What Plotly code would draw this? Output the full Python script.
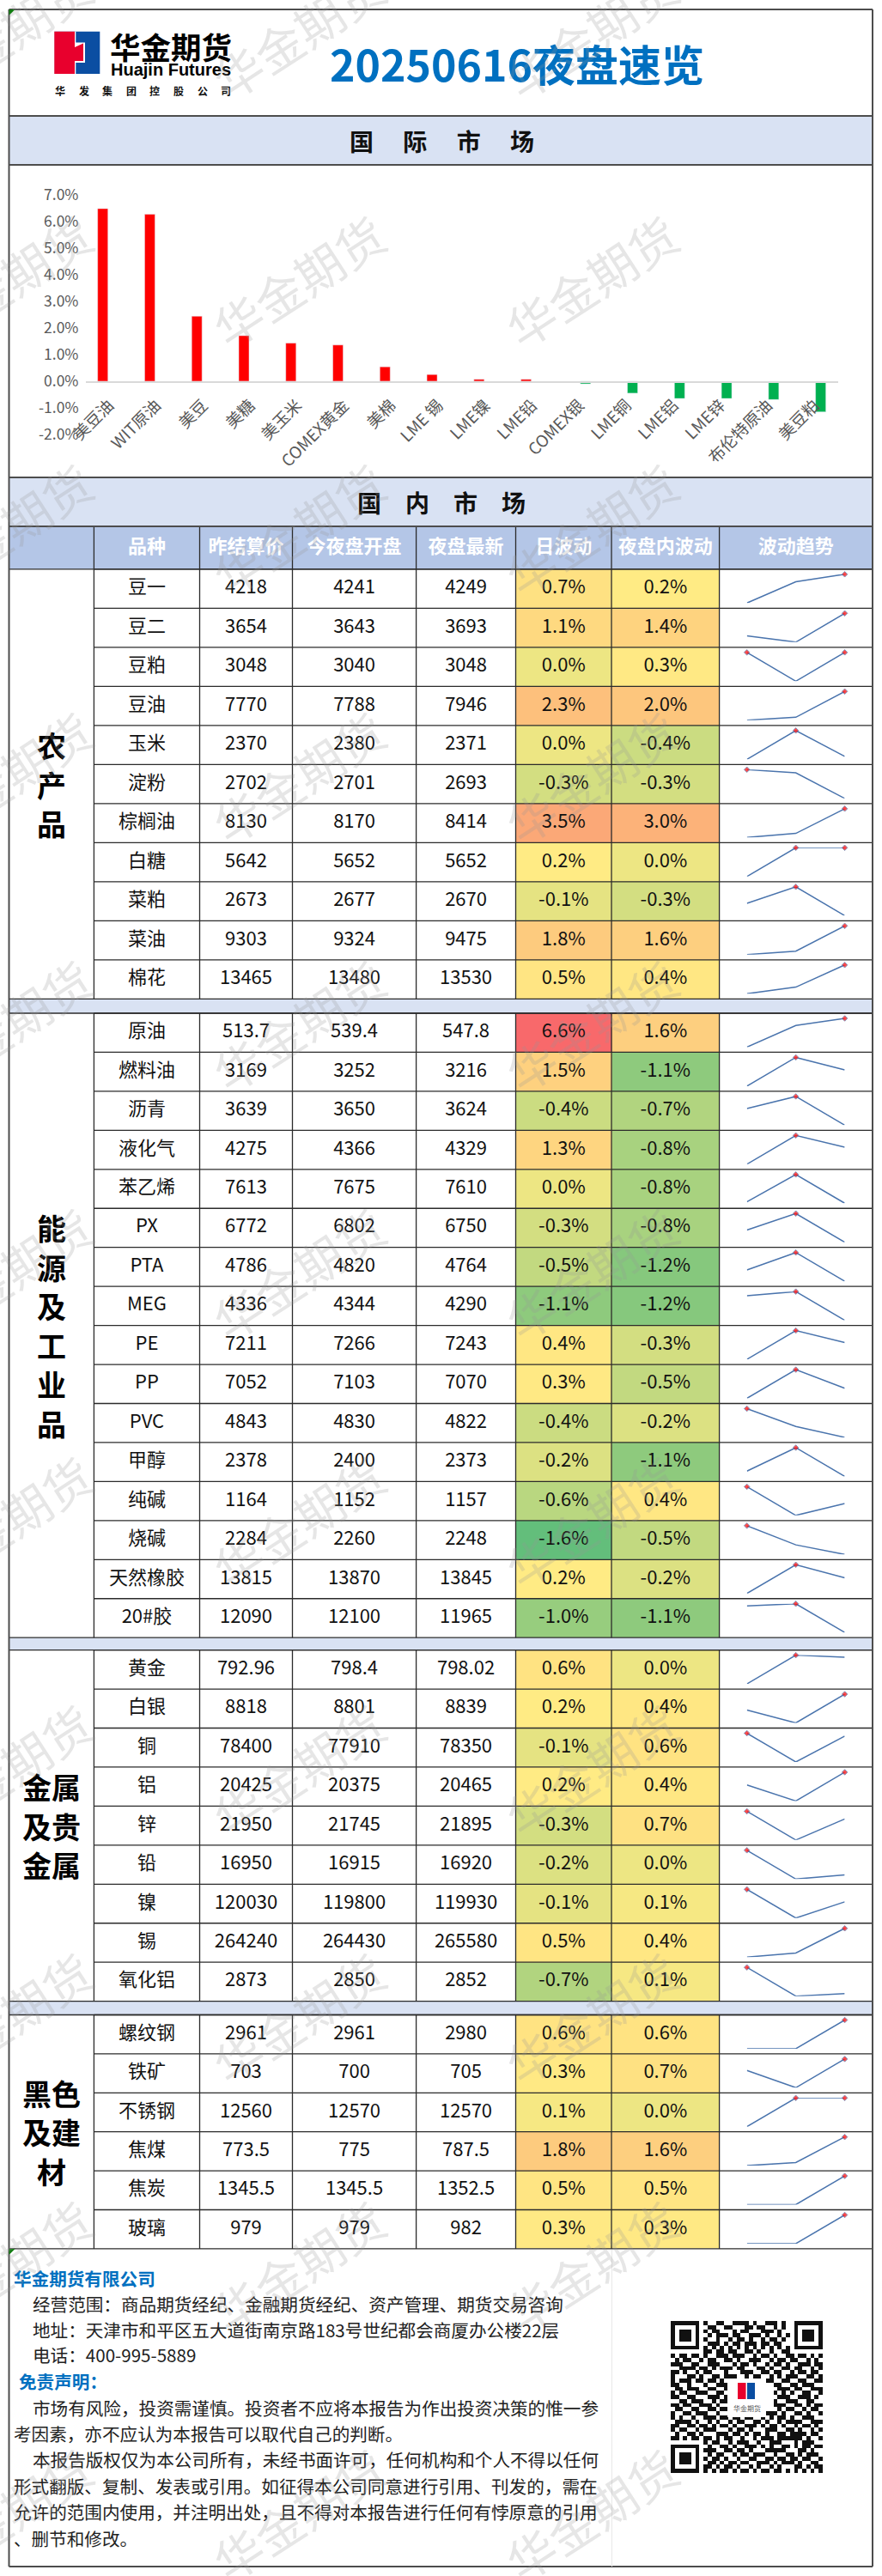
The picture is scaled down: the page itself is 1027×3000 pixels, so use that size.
import plotly.graph_objects as go

# === data ===
bar_names = ["美豆油", "WIT原油", "美豆", "美糖", "美玉米", "COMEX黄金", "美棉", "LME 锡",
             "LME镍", "LME铅", "COMEX银", "LME铜", "LME铝", "LME锌", "布伦特原油", "美豆粕"]
bar_up = [6.48, 6.27, 2.44, 1.71, 1.43, 1.36, 0.54, 0.25, 0.07, 0.07,
          None, None, None, None, None, None]
bar_down = [None, None, None, None, None, None, None, None, None, None,
            -0.10, -0.45, -0.65, -0.65, -0.69, -1.15]
bar_ticks = [-2, -1, 0, 1, 2, 3, 4, 5, 6, 7]
bar_tick_text = ["-2.0%", "-1.0%", "0.0%", "1.0%", "2.0%", "3.0%", "4.0%", "5.0%", "6.0%", "7.0%"]

headers = ["品种", "昨结算价", "今夜盘开盘", "夜盘最新", "日波动", "夜盘内波动", "波动趋势"]

agri_names = ["豆一", "豆二", "豆粕", "豆油", "玉米", "淀粉", "棕榈油", "白糖", "菜粕", "菜油", "棉花"]
agri_prev = [4218, 3654, 3048, 7770, 2370, 2702, 8130, 5642, 2673, 9303, 13465]
agri_open = [4241, 3643, 3040, 7788, 2380, 2701, 8170, 5652, 2677, 9324, 13480]
agri_last = [4249, 3693, 3048, 7946, 2371, 2693, 8414, 5652, 2670, 9475, 13530]
agri_day = [0.7, 1.1, 0.0, 2.3, 0.0, -0.3, 3.5, 0.2, -0.1, 1.8, 0.5]
agri_night = [0.2, 1.4, 0.3, 2.0, -0.4, -0.3, 3.0, 0.0, -0.3, 1.6, 0.4]

energy_names = ["原油", "燃料油", "沥青", "液化气", "苯乙烯", "PX", "PTA", "MEG", "PE", "PP", "PVC",
                "甲醇", "纯碱", "烧碱", "天然橡胶", "20#胶"]
energy_prev = [513.7, 3169, 3639, 4275, 7613, 6772, 4786, 4336, 7211, 7052, 4843, 2378, 1164, 2284, 13815, 12090]
energy_open = [539.4, 3252, 3650, 4366, 7675, 6802, 4820, 4344, 7266, 7103, 4830, 2400, 1152, 2260, 13870, 12100]
energy_last = [547.8, 3216, 3624, 4329, 7610, 6750, 4764, 4290, 7243, 7070, 4822, 2373, 1157, 2248, 13845, 11965]
energy_day = [6.6, 1.5, -0.4, 1.3, 0.0, -0.3, -0.5, -1.1, 0.4, 0.3, -0.4, -0.2, -0.6, -1.6, 0.2, -1.0]
energy_night = [1.6, -1.1, -0.7, -0.8, -0.8, -0.8, -1.2, -1.2, -0.3, -0.5, -0.2, -1.1, 0.4, -0.5, -0.2, -1.1]

metal_names = ["黄金", "白银", "铜", "铝", "锌", "铅", "镍", "锡", "氧化铝"]
metal_prev = [792.96, 8818, 78400, 20425, 21950, 16950, 120030, 264240, 2873]
metal_open = [798.4, 8801, 77910, 20375, 21745, 16915, 119800, 264430, 2850]
metal_last = [798.02, 8839, 78350, 20465, 21895, 16920, 119930, 265580, 2852]
metal_day = [0.6, 0.2, -0.1, 0.2, -0.3, -0.2, -0.1, 0.5, -0.7]
metal_night = [0.0, 0.4, 0.6, 0.4, 0.7, 0.0, 0.1, 0.4, 0.1]

black_names = ["螺纹钢", "铁矿", "不锈钢", "焦煤", "焦炭", "玻璃"]
black_prev = [2961, 703, 12560, 773.5, 1345.5, 979]
black_open = [2961, 700, 12570, 775, 1345.5, 979]
black_last = [2980, 705, 12570, 787.5, 1352.5, 982]
black_day = [0.6, 0.3, 0.1, 1.8, 0.5, 0.3]
black_night = [0.6, 0.7, 0.0, 1.6, 0.5, 0.3]

groups = [
    (["农", "产", "品"], agri_names, agri_prev, agri_open, agri_last, agri_day, agri_night),
    (["能", "源", "及", "工", "业", "品"], energy_names, energy_prev, energy_open, energy_last, energy_day, energy_night),
    (["金属", "及贵", "金属"], metal_names, metal_prev, metal_open, metal_last, metal_day, metal_night),
    (["黑色", "及建", "材"], black_names, black_prev, black_open, black_last, black_day, black_night),
]

footer_lines = [
    ("华金期货有限公司", 14, 2653, True),
    ("经营范围：商品期货经纪、金融期货经纪、资产管理、期货交易咨询", 36, 2683, False),
    ("地址：天津市和平区五大道街南京路183号世纪都会商厦办公楼22层", 36, 2713, False),
    ("电话：400-995-5889", 36, 2742, False),
    ("免责声明：", 20, 2773, True),
    ("市场有风险，投资需谨慎。投资者不应将本报告为作出投资决策的惟一参", 36, 2804, False),
    ("考因素，亦不应认为本报告可以取代自己的判断。", 14, 2834, False),
    ("本报告版权仅为本公司所有，未经书面许可，任何机构和个人不得以任何", 36, 2864, False),
    ("形式翻版、复制、发表或引用。如征得本公司同意进行引用、刊发的，需在", 14, 2895, False),
    ("允许的范围内使用，并注明出处，且不得对本报告进行任何有悖原意的引用", 14, 2925, False),
    ("、删节和修改。", 14, 2956, False),
]

qr_rows = [
    "1111111010011001111010011101001111111",
    "1000001001100110001101100101001000001",
    "1011101010110001011000111010001011101",
    "1011101001011101100111010010101011101",
    "1011101010010010110100101101001011101",
    "1000001001110101101110110110001000001",
    "1111111010101010101010101010101111111",
    "0000000011011011001101001001100000000",
    "1011011010011101110010110100110110101",
    "0101100101100110100111001011011001010",
    "1110011001110001011010010110100111011",
    "0011110110101110110001101001101100101",
    "1101001011000100011100110110010110110",
    "1000110100110111001011001010111001101",
    "1011101101101001100000011001100110011",
    "1100100010011100000000000110011011100",
    "0110111001100110000000000011101100111",
    "1011001110011010000000000101010011001",
    "1100110001110100000000000011100111010",
    "0011011100101100000000000100111001100",
    "1101100111010010000000000111001101011",
    "0110011001101100000000000010110010110",
    "1001101110010011000000011101001101001",
    "1010010011101101101100101011010011100",
    "0111101001010010110011010010111100111",
    "1100110110101101001110101101001011010",
    "1011001011100010110100011100110100101",
    "0100110100011101101011010011011110110",
    "1101011011010110010010111011111101001",
    "0000000010110010111001001110001011100",
    "1111111001001101001110101001101011011",
    "1000001011100110110100011111000110100",
    "1011101001011001011011100100110101110",
    "1011101010110100100110011011011011001",
    "1011101001101011011001110101110100110",
    "1000001011010110100101001010001101011",
    "1111111010101101011010110110101010101",
]

watermark_x = [6, 347, 688, 1029]
watermark_y = [37, 326, 615, 904, 1193, 1482, 1771, 2060, 2349, 2638, 2927]
watermark_shift = [0, 0, 0, 25]

# === page layout (pixels) ===
PAGE_W, PAGE_H = 1027, 3000
FONT = "Noto Sans CJK SC"
LEFT, RIGHT, TOP, BOTTOM = 10.5, 1016, 11, 2989
col_edges = [109.4, 232.5, 340.5, 484.6, 600.5, 712, 837.6, RIGHT]
group_tops = [662.8, 1180, 1921.6, 2346.5]
row_heights = [45.5, 45.45, 45.45, 45.4]
spark_x = [869.7, 983.6]
spark_inset = 6
DARK = "#2b2b2b"
FRAME = "#4d4d4d"
BAND = "#d9e2f3"
HEAD = "#b4c6e7"
BLUE = "#0070c0"

fig = go.Figure()
shapes = []
annotations = []


def rect(x0, y0, x1, y1, fill, layer="below"):
    shapes.append(dict(type="rect", xref="x", yref="y", x0=x0, y0=y0, x1=x1, y1=y1,
                       fillcolor=fill, line_width=0, layer=layer))


def hline(y, x0=LEFT, x1=RIGHT, color=DARK, width=1.3):
    shapes.append(dict(type="line", xref="x", yref="y", x0=x0, x1=x1, y0=y, y1=y,
                       line=dict(color=color, width=width), layer="above"))


def vline(x, y0, y1, color=DARK, width=1.3):
    shapes.append(dict(type="line", xref="x", yref="y", x0=x, x1=x, y0=y0, y1=y1,
                       line=dict(color=color, width=width), layer="above"))


def label(text, x, y, size, color="#111111", bold=False, anchor="center", family=FONT):
    annotations.append(dict(xref="x", yref="y", x=x, y=y, text=f"<b>{text}</b>" if bold else text,
                            showarrow=False, xanchor=anchor, yanchor="middle",
                            font=dict(family=family, size=size, color=color)))


# bands
rect(LEFT, 135, RIGHT, 192, BAND)
rect(LEFT, 556, RIGHT, 613, BAND)
rect(LEFT, 613, RIGHT, 662.8, HEAD)

# header row
head_x = [(col_edges[i] + col_edges[i + 1]) / 2 for i in range(7)]
fig.add_trace(go.Scatter(x=head_x, y=[638.5] * 7, text=headers, mode="text", hoverinfo="skip",
                         textposition="middle center", showlegend=False,
                         textfont=dict(family=FONT, size=22, color="white", weight="bold")))
for e in col_edges:
    vline(e, 613, 662.8)

# table groups
text_x, text_y, text_s = [], [], []
spark_axes = {}
axis_no = 3
for top, h, g in zip(group_tops, row_heights, groups):
    chars, names, prev, opn, last, day, night = g
    n = len(names)
    bottom = top + n * h
    row_edges = [top + i * h for i in range(n + 1)]
    fig.add_trace(go.Heatmap(
        x=col_edges[4:7], y=row_edges, z=[[d, m] for d, m in zip(day, night)],
        zmin=-1.6, zmax=6.6, showscale=False, hoverinfo="skip",
        colorscale=[[0, "#63be7b"], [0.22, "#ffeb84"], [1, "#f8696b"]]))
    for i in range(n):
        cy = top + (i + 0.5) * h
        cells = [names[i], str(prev[i]), str(opn[i]), str(last[i]), f"{day[i]:.1f}%", f"{night[i]:.1f}%"]
        for cx, c in zip(head_x, cells):
            text_x.append(cx)
            text_y.append(cy)
            text_s.append(c)
        # sparkline, one y axis per row
        yname = f"yaxis{axis_no}"
        vals = [prev[i], opn[i], last[i]]
        y_lo = 1 - (top + (i + 1) * h - spark_inset) / PAGE_H
        y_hi = 1 - (top + i * h + spark_inset) / PAGE_H
        spark_axes[yname] = dict(domain=[y_lo, y_hi], range=[min(vals), max(vals)], anchor="x3",
                                 visible=False, fixedrange=True)
        top_val = max(vals)
        fig.add_trace(go.Scatter(
            x=[0, 1, 2], y=vals, mode="lines+markers", xaxis="x3", yaxis=f"y{axis_no}",
            line=dict(color="#4a74ad", width=1.5), cliponaxis=False, hoverinfo="skip", showlegend=False,
            marker=dict(color="#ff0000", symbol="diamond", size=[5 if v == top_val else 0 for v in vals])))
        axis_no += 1
        hline(top + i * h, col_edges[0], RIGHT)
    # group frame and columns
    for e in col_edges:
        vline(e, top, bottom)
    hline(top)
    hline(bottom)
    # group name
    mid = (top + bottom) / 2
    pitch = 45.5
    for k, ch in enumerate(chars):
        label(ch, 60, mid + (k - (len(chars) - 1) / 2) * pitch, 34, "#000000", True)
    if bottom < 2600:
        rect(LEFT, bottom, RIGHT, group_tops[group_tops.index(top) + 1], BAND)

fig.add_trace(go.Scatter(x=text_x, y=text_y, text=text_s, mode="text", hoverinfo="skip",
                         textposition="middle center", showlegend=False,
                         textfont=dict(family=FONT, size=22, color="#111111")))

# bar chart
fig.add_trace(go.Bar(x=bar_names, y=bar_up, marker_color="#ff0000", xaxis="x2", yaxis="y2",
                     hoverinfo="skip", showlegend=False))
fig.add_trace(go.Bar(x=bar_names, y=bar_down, marker_color="#00b050", xaxis="x2", yaxis="y2",
                     hoverinfo="skip", showlegend=False))

# qr code
fig.add_trace(go.Heatmap(z=[[int(c) for c in r.ljust(37, "0")[:37]] for r in qr_rows],
                         x0=783.4, dx=4.79, y0=2705.4, dy=4.79, zmin=0, zmax=1, showscale=False,
                         colorscale=[[0, "white"], [1, "#111111"]], hoverinfo="skip"))

# frame lines
for y in [135, 192, 556, 613]:
    hline(y, color=FRAME, width=1.8)
hline(TOP, color=FRAME, width=2)
hline(BOTTOM, color=FRAME, width=2)
vline(LEFT, TOP, BOTTOM, color=FRAME, width=2)
vline(RIGHT, TOP, BOTTOM, color=FRAME, width=2)
vline(712.5, 2620, BOTTOM, color="#e8e8e8", width=1)

# little green corner marks
for cx, cy in [(LEFT, TOP), (LEFT, 2619)]:
    shapes.append(dict(type="path", xref="x", yref="y", layer="above", fillcolor="#107c10", line_width=0,
                       path=f"M {cx} {cy} L {cx + 7} {cy} L {cx} {cy + 7} Z"))

# logo
rect(63.3, 36.7, 116.3, 86, "#0b4ea2", "above")
rect(88, 49.5, 99, 73, "white", "above")
rect(63.3, 36.7, 88.3, 86, "white", "above")
shapes.append(dict(type="path", xref="x", yref="y", layer="above", fillcolor="#e8002d", line_width=0,
                   path="M 63.3 36.7 L 87 36.7 L 87 55 L 97 50.5 L 97 71 L 87 71 L 87 86 L 63.3 86 Z"))
label("华金期货", 199, 53, 35.5, "#000000", True)
label("Huajin Futures", 199, 80.5, 20, "#000000", True, family="Liberation Sans")
for k, ch in enumerate("华发集团控股公司"):
    label(ch, 70 + k * 27.6, 105.5, 12, "#111111", True)

# titles
label("20250616夜盘速览", 602, 73, 50, BLUE, True)
label("国　 际　 市　 场", 514, 164, 28, "#111111", True)
label("国　内　市　场", 513.5, 585, 28, "#111111", True)

# footer
for text, x, y, bold in footer_lines:
    label(text, x, y, 20.6, BLUE if bold else "#222222", bold, "left")

# logo in the qr
shapes.append(dict(type="rect", xref="x", yref="y", x0=847, x1=892, y0=2770, y1=2815, fillcolor="white",
                   line_width=0, layer="above"))
rect(859, 2775, 868.5, 2794, "#e8002d", "above")
rect(870, 2775, 879, 2794, "#0b4ea2", "above")
label("华金期货", 869.5, 2804, 8, "#555555")

# watermark
for wx, shift in zip(watermark_x, watermark_shift):
    for wy in watermark_y:
        annotations.append(dict(xref="x", yref="y", x=wx, y=wy + shift, text="华金期货", showarrow=False,
                                textangle=-33, font=dict(family=FONT, size=56, color="rgba(150,150,150,0.24)")))

layout_axes = dict(
    xaxis=dict(domain=[0, 1], range=[0, PAGE_W], visible=False, fixedrange=True),
    yaxis=dict(domain=[0, 1], range=[PAGE_H, 0], visible=False, fixedrange=True),
    xaxis2=dict(domain=[99.5 / PAGE_W, 975.8 / PAGE_W], anchor="free", position=1 - 444.7 / PAGE_H,
                type="category", categoryorder="array", categoryarray=bar_names, tickangle=-45,
                showline=True, linecolor="#d9d9d9", linewidth=1.5, showgrid=False, ticks="",
                ticklabelstandoff=8, tickfont=dict(family=FONT, size=19, color="#595959"), fixedrange=True),
    yaxis2=dict(domain=[1 - 506 / PAGE_H, 1 - 226.8 / PAGE_H], range=[-2, 7], anchor="x2",
                tickvals=bar_ticks, ticktext=bar_tick_text, showgrid=False, zeroline=False, ticks="",
                ticklabelstandoff=7, tickfont=dict(family=FONT, size=17.5, color="#595959"), fixedrange=True),
    xaxis3=dict(domain=[spark_x[0] / PAGE_W, spark_x[1] / PAGE_W], range=[0, 2], anchor="y3",
                visible=False, fixedrange=True),
)
layout_axes.update(spark_axes)

fig.update_layout(
    width=PAGE_W, height=PAGE_H, margin=dict(l=0, r=0, t=0, b=0, pad=0, autoexpand=False),
    paper_bgcolor="white", plot_bgcolor="rgba(0,0,0,0)",
    barmode="group", bargap=0.474, bargroupgap=0.167,
    shapes=shapes, annotations=annotations, showlegend=False,
    **layout_axes)

fig.write_html("out.html", config=dict(displayModeBar=False), post_script="document.body.style.margin='0';")
